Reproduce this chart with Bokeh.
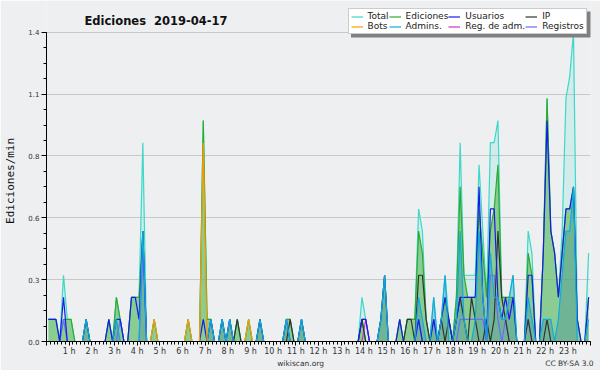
from bokeh.plotting import figure
from bokeh.models import (FixedTicker, Legend, LegendItem, Label, BoxAnnotation, Range1d, LinearAxis)
from bokeh.embed import file_html
from bokeh.resources import INLINE

# ---------------- data: edits per 10-minute bin (144 bins, 00:00 -> 23:50) ----------------
total = [1,1,1,0,3,1,1,0,0,0,1,0, 0,0,0,0,1,0,2,1,0,0,2,2,
         2,9,0,0,1,0,0,0,0,0,0,0, 0,1,0,0,0,10,1,1,0,0,1,0,
         1,0,1,0,0,1,0,0,1,0,0,0, 0,0,0,1,1,0,0,1,0,0,0,0,
         0,0,0,0,0,0,0,0,0,0,0,2, 1,0,0,0,1,3,0,0,0,1,0,1,
         1,1,6,5,1,0,2,0,1,3,1,0, 2,9,3,3,3,3,8,5,2,9,9,10,
         2,2,2,3,0,0,0,5,4,0,0,4, 11,5,4,2,5,11,12,14,1,0,0,4]
ediciones = [1,1,1,0,1,1,1,0,0,0,1,0, 0,0,0,0,1,0,2,1,0,0,2,2,
             2,5,0,0,1,0,0,0,0,0,0,0, 0,1,0,0,0,10,1,1,0,0,1,0,
             1,0,1,0,0,1,0,0,1,0,0,0, 0,0,0,1,1,0,0,1,0,0,0,0,
             0,0,0,0,0,0,0,0,0,0,0,1, 0,0,0,0,1,3,0,0,0,1,0,1,
             1,1,5,4,1,0,1,0,1,2,1,0, 2,7,3,2,2,2,6,4,2,5,6,8,
             2,2,2,2,0,0,0,4,3,0,0,4, 11,5,4,2,4,6,6,7,1,0,0,2]
usuarios = [1,1,1,0,2,0,0,0,0,0,1,0, 0,0,0,0,1,0,1,1,0,0,2,2,
            1,5,0,0,0,0,0,0,0,0,0,0, 0,0,0,0,0,1,0,1,0,0,1,0,
            1,0,0,0,0,0,0,0,1,0,0,0, 0,0,0,1,0,0,0,1,0,0,0,0,
            0,0,0,0,0,0,0,0,0,0,0,1, 1,0,0,0,1,3,0,0,0,1,0,0,
            0,0,1,0,0,0,1,0,1,2,1,0, 1,2,2,2,2,2,7,2,0,6,6,2,
            1,2,1,2,0,0,0,3,3,0,0,4, 10,5,4,2,4,6,6,7,1,0,0,2]
ip = [0,0,0,0,0,0,0,0,0,0,0,0, 0,0,0,0,0,0,0,0,0,0,0,0,
      0,0,0,0,0,0,0,0,0,0,0,0, 0,0,0,0,0,0,0,0,0,0,0,0,
      0,0,1,0,0,0,0,0,0,0,0,0, 0,0,0,0,1,0,0,0,0,0,0,0,
      0,0,0,0,0,0,0,0,0,0,0,1, 0,0,0,0,0,0,0,0,0,0,0,1,
      1,0,3,3,1,0,0,0,1,0,1,0, 1,2,1,0,2,1,0,0,1,0,1,5,
      2,1,0,0,0,0,0,1,0,0,0,0, 1,0,0,0,0,0,0,0,0,0,0,0]
bots = [0,0,0,0,0,0,0,0,0,0,0,0, 0,0,0,0,0,0,0,0,0,0,0,0,
        0,0,0,0,1,0,0,0,0,0,0,0, 0,1,0,0,0,9,0,0,0,0,0,0,
        0,0,0,0,0,1,0,0,0,0,0,0, 0,0,0,0,0,0,0,0,0,0,0,0,
        0,0,0,0,0,0,0,0,0,0,0,0, 0,0,0,0,0,0,0,0,0,0,0,0,
        0,0,0,0,0,0,0,0,0,0,0,0, 0,0,0,0,0,0,0,0,0,0,0,0,
        0,0,0,0,0,0,0,0,0,0,0,0, 0,0,0,0,0,0,0,0,0,0,0,0]
admins = [0,0,0,0,0,0,0,0,0,0,1,0, 0,0,0,0,0,0,1,0,0,0,0,0,
          0,5,0,0,0,0,0,0,0,0,0,0, 0,0,0,0,0,0,0,1,0,0,1,0,
          1,0,0,0,0,0,0,0,1,0,0,0, 0,0,0,1,0,0,0,1,0,0,0,0,
          0,0,0,0,0,0,0,0,0,0,0,0, 0,0,0,0,1,3,0,0,0,0,0,0,
          0,0,2,1,0,0,2,0,1,3,0,0, 1,5,1,0,0,1,5,2,0,4,2,2,
          1,1,2,3,0,0,0,2,1,0,0,1, 1,1,0,1,3,5,5,7,0,0,0,1]
reg_adm = [0,0,0,0,0,0,0,0,0,0,0,0, 0,0,0,0,0,0,0,0,0,0,0,0,
           0,0,0,0,0,0,0,0,0,0,0,0, 0,0,0,0,0,0,0,0,0,0,0,0,
           0,0,0,0,0,0,0,0,0,0,0,0, 0,0,0,0,0,0,0,0,0,0,0,0,
           0,0,0,0,0,0,0,0,0,0,0,0, 1,0,0,0,0,0,0,0,0,0,0,0,
           0,0,0,0,0,0,0,0,0,0,0,0, 0,0,0,0,0,0,0,0,0,0,0,0,
           0,0,0,0,0,0,0,0,0,0,0,0, 0,0,0,0,0,0,0,0,0,0,0,0]
registros = [0,0,0,0,1,0,0,0,0,0,0,0, 0,0,0,0,0,0,0,1,0,0,0,0,
             0,4,0,0,0,0,0,0,0,0,0,0, 0,0,0,0,0,0,0,0,0,0,0,0,
             0,0,0,0,0,0,0,0,0,0,0,0, 0,0,0,0,0,0,0,0,0,0,0,0,
             0,0,0,0,0,0,0,0,0,0,0,1, 1,0,0,0,0,0,0,0,0,0,0,0,
             0,0,1,0,0,0,1,0,0,0,0,0, 0,1,1,1,1,1,1,1,0,3,3,1,
             0,1,0,0,0,0,0,1,0,0,0,0, 0,0,0,0,0,0,0,0,0,0,0,0]

hour_ticks = list(range(0, 25))
hour_labels = {h: ("%d h" % h if 1 <= h <= 23 else "") for h in hour_ticks}
y_ticks = [0, 0.28, 0.56, 0.84, 1.12, 1.4]
y_tick_labels = ["0.0", "0.3", "0.6", "0.8", "1.1", "1.4"]
footer_pos = [11.21, 23.07]
footer_texts = ["wikiscan.org", "CC BY-SA 3.0"]
title_text = "Ediciones \u00a02019-04-17"
y_title = "Ediciones/min"

BIN_MIN = 10.0
xs = [(i + 0.5) / 6.0 for i in range(len(total))]
def rate(counts):
    return [c / BIN_MIN for c in counts]

BG = "#eeeff1"
PX = 312 / 1.4   # pixels per unit on y
p = figure(width=600, height=370, output_backend="svg", toolbar_location=None, title=None,
           x_range=Range1d(0, 24), y_range=Range1d(0, 1.4 + 32 / PX),
           min_border_left=46, min_border_right=10, min_border_top=0, min_border_bottom=26,
           background_fill_color=BG, border_fill_color=BG, outline_line_color=None)

# areas
p.varea(x=xs, y1=0, y2=rate(total), fill_color="#40e0d0", fill_alpha=0.16)
p.varea(x=xs, y1=0, y2=rate(ediciones), fill_color="#6cbf6c", fill_alpha=0.7)
p.varea(x=xs, y1=0, y2=rate(admins), fill_color="#1f6fa0", fill_alpha=0.25)

lw = 1.2
r_total = p.line(xs, rate(total), line_color="#3cd8c8", line_width=lw)
r_ed = p.line(xs, rate(ediciones), line_color="#2eaa2e", line_width=lw)
r_reg = p.line(xs, rate(registros), line_color="#6a6aff", line_width=lw)
r_regadm = p.line(xs, rate(reg_adm), line_color="#cc33cc", line_width=lw)
r_ip = p.line(xs, rate(ip), line_color="#333333", line_width=lw)
r_us = p.line(xs, rate(usuarios), line_color="#1a1ae6", line_width=lw)
r_adm = p.line(xs, rate(admins), line_color="#11aadd", line_width=lw)
r_bots = p.line(xs, rate(bots), line_color="#ff9900", line_width=lw)

# axes
xa = p.xaxis[0]
xa.ticker = FixedTicker(ticks=hour_ticks, minor_ticks=[k / 6.0 for k in range(145)])
xa.major_label_overrides = hour_labels
xa.major_tick_out = 4
xa.major_tick_in = 0
xa.minor_tick_out = 3
xa.minor_tick_in = 0
xa.axis_line_color = "black"
xa.major_tick_line_color = "black"
xa.minor_tick_line_color = "black"
xa.major_label_text_font = "DejaVu Sans"
xa.major_label_text_font_size = "8px"
xa.major_label_text_color = "#333333"
xa.major_label_standoff = 1

foot = LinearAxis(ticker=FixedTicker(ticks=footer_pos, minor_ticks=[]),
                  major_label_overrides=dict(zip(footer_pos, footer_texts)),
                  axis_line_color=None, major_tick_line_color=None, minor_tick_line_color=None,
                  major_tick_out=0, major_tick_in=0, minor_tick_out=0, minor_tick_in=0,
                  major_label_standoff=0, major_label_text_font="DejaVu Sans",
                  major_label_text_font_size="7.5px", major_label_text_color="#333333")
p.add_layout(foot, "below")

ya = p.yaxis[0]
ya.ticker = FixedTicker(ticks=y_ticks, minor_ticks=[k * 0.07 for k in range(21)])
ya.major_label_overrides = dict(zip(y_ticks, y_tick_labels))
ya.bounds = (0, 1.4)
ya.major_tick_out = 5
ya.major_tick_in = 0
ya.minor_tick_out = 3
ya.minor_tick_in = 0
ya.axis_line_color = "black"
ya.major_tick_line_color = "black"
ya.minor_tick_line_color = "black"
ya.major_label_text_font = "DejaVu Sans"
ya.major_label_text_font_size = "7px"
ya.major_label_text_color = "#333333"
ya.major_label_standoff = 2
ya.axis_label = y_title + "\u00a0\u00a0\u00a0"
ya.axis_label_text_font = "DejaVu Sans Mono"
ya.axis_label_text_font_size = "11px"
ya.axis_label_text_font_style = "normal"
ya.axis_label_text_color = "#111111"
ya.axis_label_standoff = 8

p.xgrid.visible = False
p.ygrid.grid_line_color = "#c8c8c8"
p.ygrid.grid_line_width = 1

# title (inside the extended frame)
p.add_layout(Label(x=1.676, y=(344 - 21) / PX, text=title_text, text_font="DejaVu Sans",
                   text_font_style="bold", text_font_size="11.5px", text_color="#111111",
                   text_baseline="alphabetic"))

# legend shadow + legend
shadow = BoxAnnotation(left=304.5, right=545, bottom=304, top=330,
                       left_units="screen", right_units="screen",
                       bottom_units="screen", top_units="screen",
                       fill_color="#808080", fill_alpha=1.0, line_color=None)
p.add_layout(shadow)

legend = Legend(items=[
    LegendItem(label="Total", renderers=[r_total]),
    LegendItem(label="Ediciones", renderers=[r_ed]),
    LegendItem(label="Usuarios", renderers=[r_us]),
    LegendItem(label="IP", renderers=[r_ip]),
    LegendItem(label="Bots", renderers=[r_bots]),
    LegendItem(label="Admins.", renderers=[r_adm]),
    LegendItem(label="Reg. de adm.", renderers=[r_regadm]),
    LegendItem(label="Registros", renderers=[r_reg]),
], location=(301.5, 307), ncols=4, orientation="horizontal",
   label_text_font="DejaVu Sans", label_text_font_size="9px", label_text_color="#222222",
   glyph_width=12, glyph_height=9, label_height=9, label_standoff=5,
   spacing=0, padding=2, margin=0,
   border_line_color="#999999", background_fill_color="white", background_fill_alpha=1.0)
p.add_layout(legend, "center")

open("out.html", "w").write(file_html(p, INLINE))
